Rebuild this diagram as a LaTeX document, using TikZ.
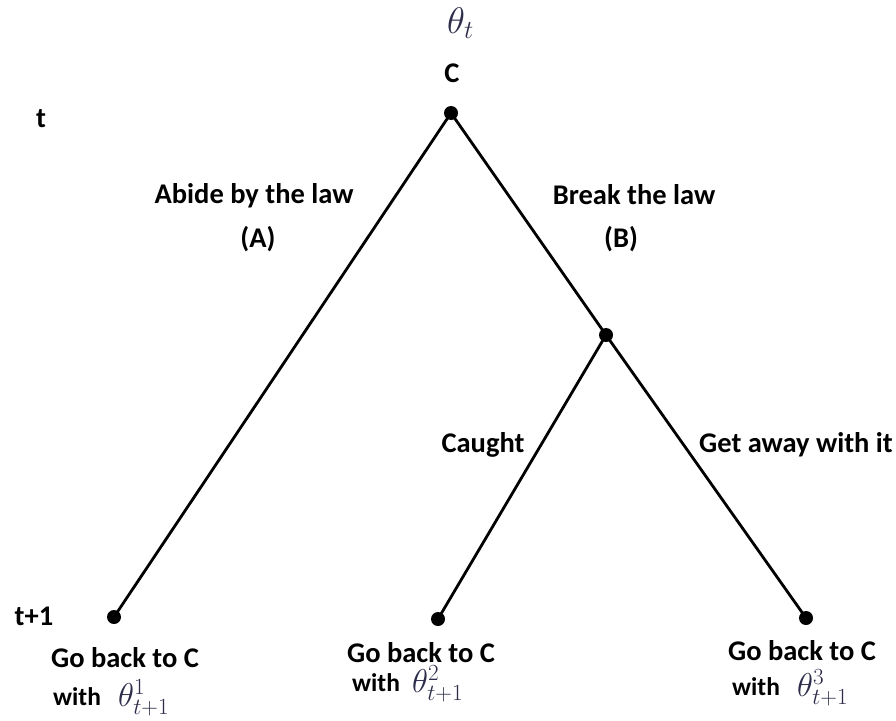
\documentclass[tikz,border=0pt]{standalone}
\usepackage{fix-cm}
\usepackage{fontspec}
\setmainfont{Carlito}
\definecolor{thetacol}{RGB}{45,45,75}
\tikzset{
  lbl/.style={font=\fontsize{28.5}{34}\selectfont\bfseries, inner sep=0pt, anchor=base},
  withlbl/.style={font=\fontsize{25.5}{30}\selectfont\bfseries, inner sep=0pt, anchor=base west},
  mth/.style={font=\fontsize{33}{40}\selectfont, text=thetacol, inner sep=0pt, anchor=base west},
  dot/.style={circle, fill=black, inner sep=0pt, minimum size=14pt},
  branch/.style={line width=2.8pt}
}
\begin{document}
\begin{tikzpicture}[x=1pt,y=-1pt]
\useasboundingbox (0,0) rectangle (896,720);
% nodes
\node[dot] (root) at (451,113) {};
\node[dot] (mid) at (606,335) {};
\node[dot] (l1) at (114,617) {};
\node[dot] (l2) at (438,619) {};
\node[dot] (l3) at (806,618) {};
% branches
\draw[branch] (root.center) -- (l1.center);
\draw[branch] (root.center) -- (mid.center);
\draw[branch] (mid.center) -- (l2.center);
\draw[branch] (mid.center) -- (l3.center);
% top labels
\node[mth, font=\fontsize{37}{44}\selectfont] (thetat) at (447,33) {$\theta_t$};
\node[lbl] (c) at (452,82) {C};
\node[lbl] (tlab) at (41,127) {t};
\node[lbl] (t1lab) at (34,625) {t+1};
% branch labels
\node[lbl] (abide) at (254,203) {Abide by the law};
\node[lbl] (A) at (258,247) {(A)};
\node[lbl] (brk) at (634,204) {Break the law};
\node[lbl] (B) at (621,247) {(B)};
\node[lbl] (caught) at (483,452) {Caught};
\node[lbl] (away) at (796,452) {Get away with it};
% leaf labels
\node[lbl] (g1) at (125,667) {Go back to C};
\node[withlbl] (w1) at (53,705) {with};
\node[mth] (th1) at (118,706) {$\theta^1_{t+1}$};
\node[lbl] (g2) at (421,662) {Go back to C};
\node[withlbl] (w2) at (352,691) {with};
\node[mth] (th2) at (412,692) {$\theta^2_{t+1}$};
\node[lbl] (g3) at (802,660) {Go back to C};
\node[withlbl] (w3) at (732,695) {with};
\node[mth] (th3) at (797,696) {$\theta^3_{t+1}$};
\end{tikzpicture}
\end{document}
